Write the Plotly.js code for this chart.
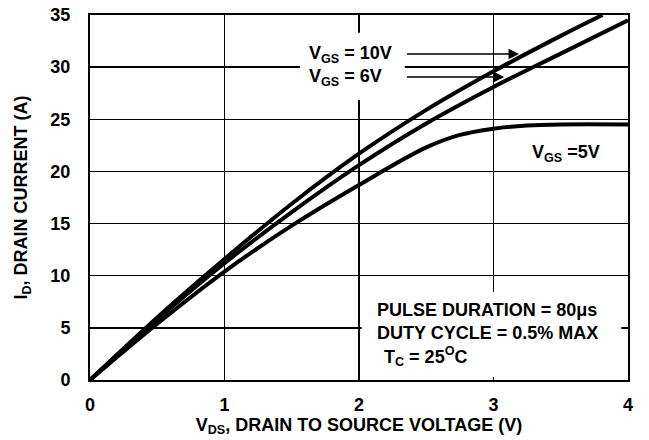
<!DOCTYPE html>
<html>
<head>
<meta charset="utf-8">
<script src="https://cdn.plot.ly/plotly-3.0.1.min.js"></script>
<style>html,body{margin:0;padding:0;background:#fff}#chart{width:649px;height:440px}</style>
</head>
<body>
<div id="chart"></div>
<script>
// VGS = 10V
const vds10 = [0, 0.5, 1.0, 1.5, 2.0, 2.5, 3.0, 3.5, 3.81];
const id10  = [0, 6.0, 11.6, 16.9, 21.7, 25.9, 29.6, 33.0, 35.0];
// VGS = 6V
const vds6 = [0, 0.5, 1.0, 1.5, 2.0, 2.5, 3.0, 3.5, 4.0];
const id6  = [0, 5.8, 11.2, 16.1, 20.6, 24.6, 28.1, 31.3, 34.5];
// VGS = 5V
const vds5 = [0, 0.5, 1.0, 1.5, 2.0, 2.5, 2.75, 3.0, 3.25, 3.5, 4.0];
const id5  = [0, 5.4, 10.4, 14.8, 18.7, 22.3, 23.5, 24.1, 24.4, 24.5, 24.5];

const xTicks = [0, 1, 2, 3, 4];
const yTicks = [0, 5, 10, 15, 20, 25, 30, 35];

const FONT = 'Liberation Sans, Arial, sans-serif';
const lineStyle = {color: '#000', width: 4, shape: 'spline', smoothing: 1};

const traces = [
  {x: vds10, y: id10, mode: 'lines', line: lineStyle, hoverinfo: 'skip'},
  {x: vds6, y: id6, mode: 'lines', line: lineStyle, hoverinfo: 'skip'},
  {x: vds5, y: id5, mode: 'lines', line: lineStyle, hoverinfo: 'skip'}
];

const txt = {family: FONT, size: 18, color: '#000', weight: 'bold'};

const layout = {
  width: 649, height: 440,
  margin: {l: 90, r: 21, t: 15, b: 60},
  paper_bgcolor: '#fff', plot_bgcolor: '#fff',
  showlegend: false,
  font: {family: FONT, color: '#000'},
  xaxis: {
    range: [0, 4], tickvals: xTicks, ticktext: xTicks.map(String),
    showgrid: true, gridcolor: '#000', gridwidth: 1.5,
    zeroline: false, showline: true, mirror: true, linecolor: '#000', linewidth: 2,
    ticks: '', ticklabelstandoff: 7,
    tickfont: txt,
    title: {text: 'V<sub>DS</sub>, DRAIN TO SOURCE VOLTAGE (V)', font: txt, standoff: 4}
  },
  yaxis: {
    range: [0, 35], tickvals: yTicks, ticktext: yTicks.map(String),
    showgrid: true, gridcolor: '#000', gridwidth: 1.5,
    zeroline: false, showline: true, mirror: true, linecolor: '#000', linewidth: 2,
    ticks: '', ticklabelstandoff: 14,
    tickfont: txt,
    title: {text: 'I<sub>D</sub>, DRAIN CURRENT (A)', font: txt, standoff: 18}
  },
  shapes: [
    {type: 'rect', layer: 'between', xref: 'x', yref: 'y', x0: 1.56, x1: 2.34, y0: 26.85, y1: 33.3,
     fillcolor: '#fff', line: {width: 0}},
    {type: 'rect', layer: 'between', xref: 'x', yref: 'y', x0: 2.02, x1: 3.95, y0: 0.29, y1: 8.44,
     fillcolor: '#fff', line: {width: 0}}
  ],
  annotations: [
    {x: 1.61, y: 31.25, xref: 'x', yref: 'y', xanchor: 'left', yanchor: 'middle', showarrow: false,
     text: 'V<sub>GS</sub> = 10V', font: txt},
    {x: 1.61, y: 29.05, xref: 'x', yref: 'y', xanchor: 'left', yanchor: 'middle', showarrow: false,
     text: 'V<sub>GS</sub> = 6V', font: txt},
    {x: 3.19, y: 31.25, ax: 2.345, ay: 31.25, xref: 'x', yref: 'y', axref: 'x', ayref: 'y',
     text: '', showarrow: true, arrowhead: 2, arrowsize: 1.4, arrowwidth: 1.5, arrowcolor: '#000'},
    {x: 3.08, y: 29.05, ax: 2.345, ay: 29.05, xref: 'x', yref: 'y', axref: 'x', ayref: 'y',
     text: '', showarrow: true, arrowhead: 2, arrowsize: 1.4, arrowwidth: 1.5, arrowcolor: '#000'},
    {x: 3.27, y: 21.75, xref: 'x', yref: 'y', xanchor: 'left', yanchor: 'middle', showarrow: false,
     text: 'V<sub>GS</sub> =5V', font: txt},
    {x: 2.12, y: 6.75, xref: 'x', yref: 'y', xanchor: 'left', yanchor: 'middle', showarrow: false,
     text: 'PULSE DURATION = 80μs', font: txt},
    {x: 2.12, y: 4.55, xref: 'x', yref: 'y', xanchor: 'left', yanchor: 'middle', showarrow: false,
     text: 'DUTY CYCLE = 0.5% MAX', font: txt},
    {x: 2.17, y: 2.3, xref: 'x', yref: 'y', xanchor: 'left', yanchor: 'middle', showarrow: false,
     text: 'T<sub>C</sub> = 25<sup>O</sup>C', font: txt}
  ]
};

Plotly.newPlot('chart', traces, layout, {displayModeBar: false, staticPlot: true});
</script>
</body>
</html>
